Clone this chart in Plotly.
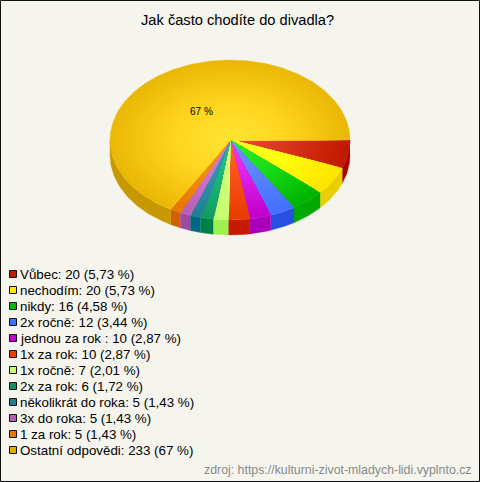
import numpy as np
import plotly.graph_objects as go

categories = ["Vůbec", "nechodím", "nikdy", "2x ročně", "jednou za rok ", "1x za rok", "1x ročně",
              "2x za rok", "několikrát do roka", "3x do roka", "1 za rok", "Ostatní odpovědi"]
values = [20, 20, 16, 12, 10, 10, 7, 6, 5, 5, 5, 233]
percent_labels = ["5,73 %", "5,73 %", "4,58 %", "3,44 %", "2,87 %", "2,87 %", "2,01 %",
                  "1,72 %", "1,43 %", "1,43 %", "1,43 %", "67 %"]
legend_colors = ["#c41a00", "#ffe800", "#00b800", "#4070ff", "#c000d0", "#e84000", "#c4ff70",
                 "#109060", "#208090", "#b860b0", "#e87800", "#e6ae00"]
center_colors = ["#ee5030", "#ffff26", "#30f030", "#7098ff", "#f040ff", "#ff6a30", "#d8ff80",
                 "#30c888", "#40a0b8", "#d888e8", "#ff9a20", "#ffe636"]
mid_colors = ["#d8351a", "#ffff10", "#18dc18", "#5a84ff", "#dc20e8", "#f85018", "#ceff78",
              "#20b478", "#3090a8", "#c874d0", "#f08a10", "#ffd41e"]
edge_colors = ["#c01a00", "#ffe400", "#00b400", "#4470ff", "#c000cc", "#e83c00", "#c4ff70",
               "#109c60", "#208098", "#b860b8", "#e87800", "#eab806"]
side_colors = ["#a80000", "#e8d000", "#00a800", "#2850e0", "#a800b8", "#c41a00", "#a0f050",
               "#008048", "#006880", "#a048a0", "#d06000", "#c89800"]

BG = "#f5f5ee"
CX, CY, RX, RY, DEPTH = 230, 140, 120, 80, 15
BANDS = 24


def rgb(h):
    return np.array([int(h[i:i + 2], 16) for i in (1, 3, 5)], float)


def mix(a, b, c, t):
    v = rgb(a) * (1 - 2 * t) + rgb(b) * 2 * t if t < 0.5 else rgb(b) * (2 - 2 * t) + rgb(c) * (2 * t - 1)
    return "rgb(%d,%d,%d)" % tuple(v.round())


def arc(a0, a1, scale=1.0):
    th = np.radians(np.linspace(a0, a1, max(3, int(abs(a1 - a0)) + 2)))
    return CX + RX * scale * np.cos(th), CY + RY * scale * np.sin(th)


fig = go.Figure()
total = sum(values)
edges = np.concatenate([[0], np.cumsum(values)]) / total * 360


def fill(x, y, color):
    fig.add_trace(go.Scatter(x=list(x), y=list(y), mode="lines", fill="toself", fillcolor=color,
                             line=dict(color=color, width=0.4), hoverinfo="skip", showlegend=False))


# side walls
for i in range(len(values)):
    a0, a1 = edges[i], edges[i + 1]
    if a0 >= 180:
        continue
    x, y = arc(a0, min(a1, 180))
    fill(np.r_[x, x[::-1]], np.r_[y, y[::-1] + DEPTH], side_colors[i])

# top, radial shading drawn as nested sectors
for i in range(len(values)):
    a0, a1 = edges[i], edges[i + 1]
    for b in range(BANDS, 0, -1):
        t = b / BANDS
        x, y = arc(a0, a1, t)
        fill(np.r_[CX, x, CX], np.r_[CY, y, CY], mix(center_colors[i], mid_colors[i], edge_colors[i], t))

# legend
ly = [274 + 16 * i for i in range(len(values))]
fig.add_trace(go.Scatter(x=[13] * len(values), y=ly, mode="markers",
                         marker=dict(symbol="square", size=7, color=legend_colors,
                                     line=dict(color="#111111", width=1)),
                         hoverinfo="skip", showlegend=False))
for c, v, p, y in zip(categories, values, percent_labels, ly):
    fig.add_annotation(x=20, y=y, text=f"{c}: {v} ({p})", showarrow=False, xanchor="left",
                       xshift=-2, font=dict(family="Liberation Sans", size=13.33, color="#000000"))

fig.add_annotation(x=237, y=20, text="Jak často chodíte do divadla?", showarrow=False,
                   font=dict(family="Liberation Sans", size=14.67, color="#000000"))
fig.add_annotation(x=201, y=111, text=percent_labels[-1], showarrow=False,
                   font=dict(family="Liberation Sans", size=10, color="#000000"))
fig.add_annotation(x=474, y=470, text="zdroj: https://kulturni-zivot-mladych-lidi.vyplnto.cz",
                   showarrow=False, xanchor="right",
                   font=dict(family="Liberation Sans", size=12.35, color="#888888"))

fig.update_layout(width=480, height=482, margin=dict(l=0, r=0, t=0, b=0),
                  paper_bgcolor=BG, plot_bgcolor=BG, showlegend=False,
                  xaxis=dict(range=[0, 480], visible=False, fixedrange=True),
                  yaxis=dict(range=[482, 0], visible=False, fixedrange=True),
                  shapes=[dict(type="rect", x0=0.5, y0=0.5, x1=479.5, y1=481.5,
                               line=dict(color="#111111", width=1), fillcolor="rgba(0,0,0,0)")])
fig.write_html("out.html", config={"displayModeBar": False},
               post_script="document.body.style.margin='0';document.body.style.overflow='hidden';")
